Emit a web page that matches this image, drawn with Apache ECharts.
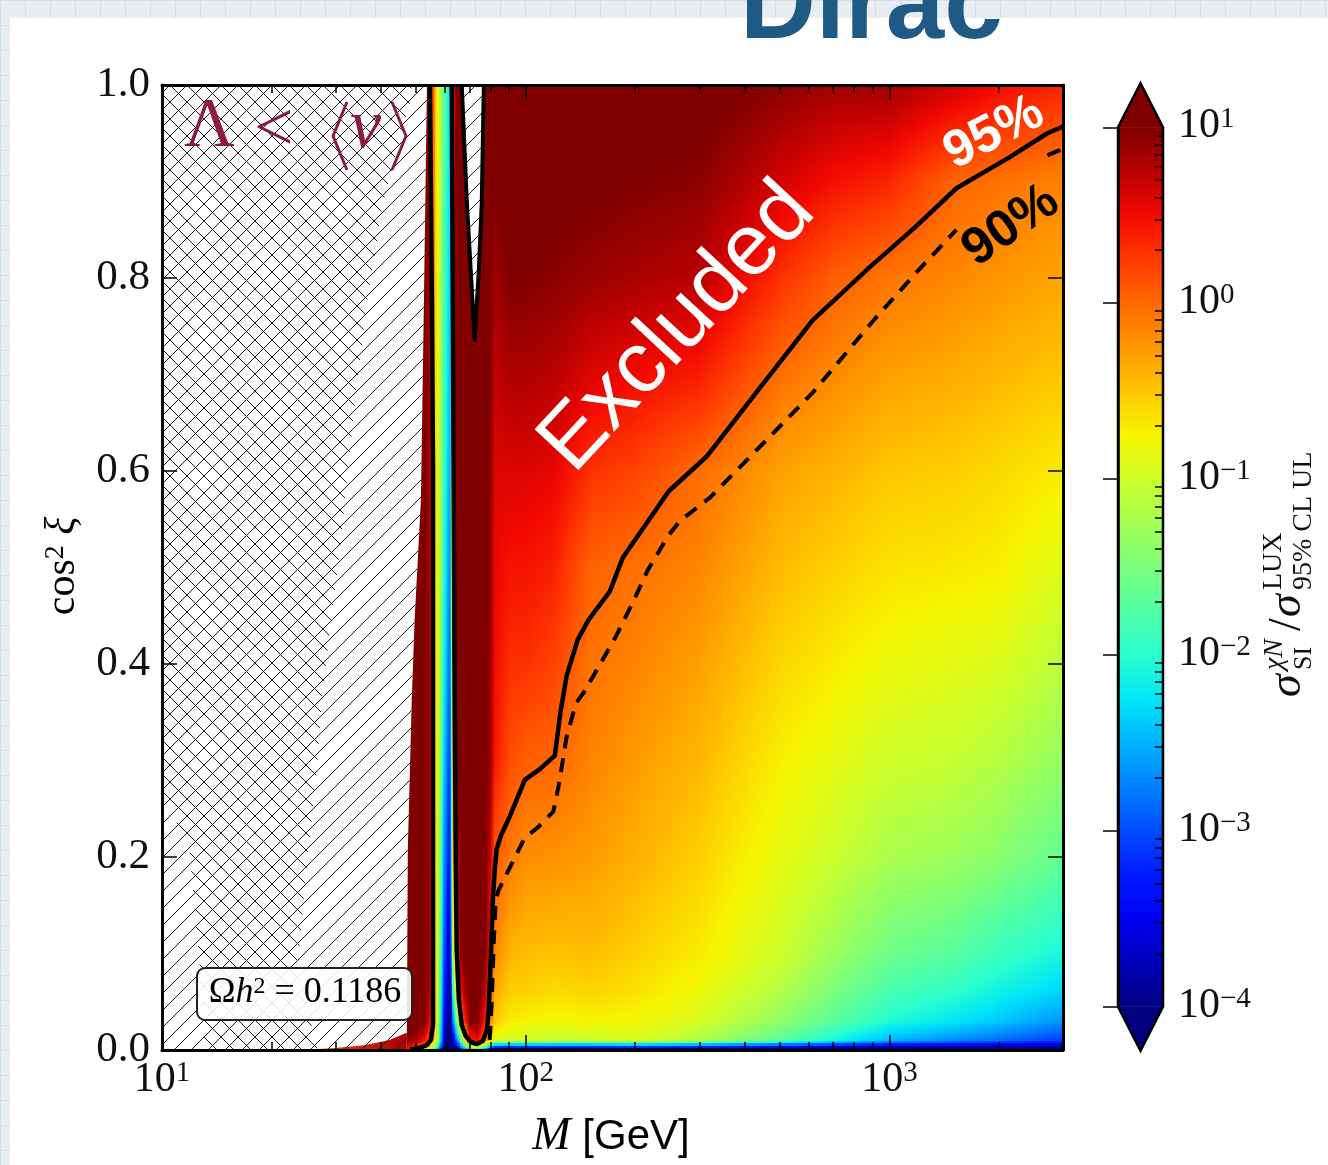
<!DOCTYPE html>
<html>
<head>
<meta charset="utf-8">
<title>Dirac</title>
<script src="https://cdn.jsdelivr.net/npm/echarts@6/dist/echarts.min.js"></script>
<style>
html, body { margin: 0; padding: 0; }
body {
  width: 1328px; height: 1165px; overflow: hidden;
  background-color: #e7edf1;
  background-image: linear-gradient(#d3dde5 1px, transparent 1px), linear-gradient(90deg, #d3dde5 1px, transparent 1px);
  background-size: 25px 25px;
}
#chart { position: absolute; left: 0; top: 0; width: 1328px; height: 1165px; }
</style>
</head>
<body>
<div id="chart"></div>
<script>
// ---------------------------------------------------------------------------
// Scan grid: log10( sigma_SI / sigma_95%CL UL ) on nodes of (M, cos^2 xi)
// ---------------------------------------------------------------------------
const M_NODES = [47, 50, 53, 55, 56.5, 58, 59.5, 61, 62.2, 63, 64, 66, 70, 74, 78, 82, 90, 100, 120, 150, 200, 300, 500, 700, 1000, 1500, 2000, 3000];
const COS2_NODES = [0, 0.01, 0.03, 0.06, 0.1, 0.2, 0.3, 0.4, 0.5, 0.6, 0.7, 0.8, 0.9, 1.0];

const logRatio_c000 = [0.3, 0.0, -0.6, -1.5, -2.0, -3.0, -4.0, -4.5, -4.5, -4.5, -4.5, -3.5, -2.0, -2.0, -3.0, -4.5, -4.5, -4.5, -4.5, -4.5, -4.5, -4.5, -4.5, -4.5, -4.5, -4.5, -4.5, -4.5];
const logRatio_c001 = [0.9, 0.8, 0.4, -0.1, -0.7, -1.8, -3.4, -4.2, -4.5, -3.8, -3.2, -1.8, 0.3, 0.5, -0.3, -0.9, -1.0, -1.0, -1.05, -1.05, -0.95, -1.2, -1.7, -2.1, -2.5, -2.7, -2.85, -3.1];
const logRatio_c003 = [1.2, 1.2, 1.0, 0.3, -0.5, -1.6, -3.2, -3.9, -4.2, -3.0, -2.0, -0.3, 1.0, 1.0, 0.2, -0.5, -0.7, -0.75, -0.8, -0.75, -0.78, -0.95, -1.38, -1.72, -2.05, -2.25, -2.4, -2.65];
const logRatio_c006 = [1.3, 1.3, 1.2, 0.5, -0.5, -1.5, -3.0, -3.7, -4.0, -2.2, -1.0, 0.4, 1.2, 1.2, 0.6, -0.35, -0.55, -0.55, -0.62, -0.58, -0.65, -0.82, -1.15, -1.5, -1.82, -1.98, -2.15, -2.35];
const logRatio_c010 = [1.3, 1.3, 1.3, 0.5, -0.55, -1.4, -2.8, -3.5, -3.8, -1.5, -0.3, 0.9, 1.3, 1.3, 0.9, -0.15, -0.4, -0.45, -0.48, -0.45, -0.55, -0.7, -1.0, -1.3, -1.58, -1.72, -1.9, -2.1];
const logRatio_c020 = [1.3, 1.3, 1.3, 0.5, -0.55, -1.3, -2.5, -3.1, -3.4, -0.7, 0.3, 1.3, 1.3, 1.3, 1.2, 0.1, -0.1, -0.2, -0.22, -0.27, -0.38, -0.55, -0.85, -1.02, -1.22, -1.3, -1.42, -1.65];
const logRatio_c030 = [1.3, 1.3, 1.3, 0.5, -0.55, -1.2, -2.2, -2.85, -3.1, -0.5, 0.8, 1.3, 1.3, 1.3, 1.3, 0.45, 0.15, 0.05, 0.0, -0.14, -0.27, -0.42, -0.72, -0.86, -1.0, -1.05, -1.15, -1.35];
const logRatio_c040 = [1.3, 1.3, 1.3, 0.5, -0.55, -1.15, -2.0, -2.6, -2.9, -0.3, 0.9, 1.3, 1.3, 1.3, 1.3, 0.5, 0.3, 0.3, 0.2, -0.06, -0.15, -0.3, -0.58, -0.7, -0.82, -0.88, -0.92, -1.12];
const logRatio_c050 = [1.3, 1.3, 1.3, 0.5, -0.55, -1.1, -1.9, -2.45, -2.75, -0.2, 1.0, 1.3, 1.3, 1.3, 1.3, 0.55, 0.45, 0.45, 0.38, 0.03, -0.05, -0.16, -0.44, -0.55, -0.65, -0.68, -0.72, -0.9];
const logRatio_c060 = [1.3, 1.3, 1.3, 0.5, -0.55, -1.1, -1.8, -2.3, -2.6, -0.1, 1.0, 1.3, 1.3, 1.3, 1.3, 0.6, 0.6, 0.6, 0.55, 0.3, 0.2, -0.03, -0.3, -0.4, -0.5, -0.54, -0.6, -0.7];
const logRatio_c070 = [1.3, 1.3, 1.3, 0.5, -0.55, -1.05, -1.75, -2.2, -2.5, -0.1, 1.0, 1.3, 1.3, 1.3, 1.3, 0.7, 0.8, 0.8, 0.75, 0.6, 0.5, 0.4, -0.04, -0.18, -0.3, -0.36, -0.42, -0.5];
const logRatio_c080 = [1.3, 1.3, 1.3, 0.5, -0.5, -1.05, -1.7, -2.1, -2.4, -0.1, 1.0, 1.3, 1.3, 1.3, 1.3, 0.85, 1.0, 1.0, 0.95, 0.88, 0.82, 0.75, 0.3, 0.05, -0.08, -0.17, -0.24, -0.33];
const logRatio_c090 = [1.3, 1.3, 1.3, 0.5, -0.5, -1.0, -1.65, -2.05, -2.35, -0.1, 1.0, 1.3, 1.3, 1.3, 1.3, 1.0, 1.15, 1.15, 1.1, 1.05, 1.0, 0.95, 0.65, 0.47, 0.35, 0.02, -0.05, -0.15];
const logRatio_c100 = [1.3, 1.3, 1.3, 0.6, -0.5, -1.0, -1.6, -2.0, -2.3, -0.1, 1.0, 1.3, 1.3, 1.3, 1.3, 1.2, 1.3, 1.3, 1.25, 1.2, 1.15, 1.1, 0.95, 0.85, 0.85, 0.65, 0.5, 0.35];

const LOG_RATIO_ROWS = [logRatio_c000, logRatio_c001, logRatio_c003, logRatio_c006, logRatio_c010, logRatio_c020,
  logRatio_c030, logRatio_c040, logRatio_c050, logRatio_c060, logRatio_c070, logRatio_c080, logRatio_c090, logRatio_c100];

// 95% CL exclusion contour: right edge of the Higgs-resonance stripe, the dip and the high-mass branch
const CL95_M = [62.6, 63.0, 63.4, 63.8, 64.2, 64.6, 65.5, 66.7, 68.4, 70.6, 73.4, 76.2, 78.2, 79.1, 80.1, 81.2, 82.2, 83.2, 85.4, 90.4,
  99.4, 109.3, 120.2, 124.8, 129.6, 138.9, 149.0, 170.2, 184.8, 199.3, 247.2, 314.3, 450.6, 614.6, 881.4, 1179, 1528, 2136, 2718, 3000];
const CL95_C = [1.000, 0.777, 0.570, 0.363, 0.207, 0.104, 0.052, 0.026, 0.0145, 0.0083, 0.0062, 0.0093, 0.0207, 0.0415, 0.0933, 0.155, 0.187, 0.208, 0.222, 0.242,
  0.280, 0.291, 0.305, 0.352, 0.388, 0.425, 0.446, 0.475, 0.510, 0.528, 0.579, 0.615, 0.691, 0.756, 0.811, 0.853, 0.893, 0.925, 0.950, 0.957];

// 95% CL contour on the low-mass side of the stripe
const STRIPE_EDGE_M = [54.5, 55.2, 55.6, 55.6, 55.6, 54.85, 53.5, 51.1, 48.0];
const STRIPE_EDGE_C = [1.0, 0.777, 0.601, 0.155, 0.026, 0.0104, 0.0052, 0.0021, 0.0005];

// 90% CL contour (null = break under its label)
const CL90_M = [79.6, 80.7, 81.7, 82.7, 84.3, 99.4, 108.2, 119.1, 123.2, 129.5, 137.3, 144.1, 154.7, 176.7, 198.9, 216.3, 246.6, 264.9, 322.2, 450.6, 614.6, 903.6, 1201, 1528, null, 2718, 3000];
const CL90_C = [0.0104, 0.052, 0.114, 0.155, 0.166, 0.220, 0.231, 0.247, 0.274, 0.324, 0.359, 0.370, 0.390, 0.428, 0.467, 0.497, 0.533, 0.548, 0.573, 0.629, 0.681, 0.756, 0.808, 0.850, null, 0.927, 0.934];

// Region with Lambda < <v> (no viable points), and the narrow gap near the top
const VEV_REGION_M = [10, 53.5, 52.5, 51.5, 49.5, 48.6, 47.4, 47.1, 10];
const VEV_REGION_C = [1, 1, 0.777, 0.570, 0.446, 0.363, 0.207, 0, 0];
const SPIKE_M = [66.7, 68.9, 70.6, 72.4, 74.3, 75.7, 76.7];
const SPIKE_C = [1.0, 0.878, 0.808, 0.736, 0.808, 0.878, 1.0];
// Second constraint, overlapping the first (cross-hatched)
const CROSS_REGION_M = [10, 48.6, 48.0, 40.5, 36.6, 34.3, 30.8, 27.5, 26.7, 25.0, 23.6, 26.8, 13.1, 12.7, 11.9, 10];
const CROSS_REGION_C = [1, 1, 0.981, 0.878, 0.774, 0.687, 0.518, 0.363, 0.293, 0.190, 0.086, 0, 0, 0.086, 0.207, 0.269];
// Thin band of valid points along cos^2 xi -> 0 below the hatched region
const LOW_EDGE_M = [24, 30, 36, 42, 47.1, 47.1];
const LOW_EDGE_C = [0, 0.002, 0.005, 0.010, 0.018, 0];

// Tick values
const M_MAJOR = [10, 100, 1000];
const M_MINOR = [20, 30, 40, 50, 60, 70, 80, 90, 200, 300, 400, 500, 600, 700, 800, 900, 2000, 3000];
const CBAR_MAJOR = [0.0001, 0.001, 0.01, 0.1, 1, 10];
const CBAR_MINOR = [0.0002, 0.0003, 0.0004, 0.0005, 0.0006, 0.0007, 0.0008, 0.0009,
  0.002, 0.003, 0.004, 0.005, 0.006, 0.007, 0.008, 0.009,
  0.02, 0.03, 0.04, 0.05, 0.06, 0.07, 0.08, 0.09,
  0.2, 0.3, 0.4, 0.5, 0.6, 0.7, 0.8, 0.9,
  2, 3, 4, 5, 6, 7, 8, 9];
const CBAR_RANGE = [-4, 1]; // log10 limits of the colour scale

// ---------------------------------------------------------------------------
// Styling
// ---------------------------------------------------------------------------
const SERIF = '"Liberation Serif", "DejaVu Serif", serif';
const SANS = '"Liberation Sans", "DejaVu Sans", sans-serif';
const INK = '#111111';
const MAROON = '#8c1b3d';

// jet colormap sampled every 5%
const JET = ['#000080', '#0000b9', '#0000f3', '#001aff', '#004dff', '#0080ff', '#00b3ff', '#00e6f7', '#29ffce', '#52ffa4',
  '#7bff7b', '#a4ff52', '#ceff29', '#f7f500', '#ffc600', '#ff9700', '#ff6800', '#ff3900', '#f30900', '#b90000', '#800000'];
const JET_RGB = JET.map(h => [parseInt(h.slice(1, 3), 16), parseInt(h.slice(3, 5), 16), parseInt(h.slice(5, 7), 16)]);
function jetColor(L) {
  let f = (L - CBAR_RANGE[0]) / (CBAR_RANGE[1] - CBAR_RANGE[0]);
  f = Math.max(0, Math.min(1, f));
  const p = f * (JET_RGB.length - 1);
  const k = Math.min(Math.floor(p), JET_RGB.length - 2);
  const t = p - k, a = JET_RGB[k], b = JET_RGB[k + 1];
  return 'rgb(' + Math.round(a[0] + (b[0] - a[0]) * t) + ',' + Math.round(a[1] + (b[1] - a[1]) * t) + ',' + Math.round(a[2] + (b[2] - a[2]) * t) + ')';
}

function hatchTile(backslash) {
  const s = 17;
  const cv = document.createElement('canvas');
  cv.width = s; cv.height = s;
  const g = cv.getContext('2d');
  g.strokeStyle = '#1a1a1a';
  g.lineWidth = 1;
  g.beginPath();
  const segs = backslash
    ? [[-1, -1, s + 1, s + 1], [s - 1, -1, s + 1, 1], [-1, s - 1, 1, s + 1]]
    : [[-1, s + 1, s + 1, -1], [-1, 1, 1, -1], [s - 1, s + 1, s + 1, s - 1]];
  segs.forEach(q => { g.moveTo(q[0], q[1]); g.lineTo(q[2], q[3]); });
  g.stroke();
  return { image: cv, repeat: 'repeat' };
}
const HATCH_FWD = hatchTile(false);
const HATCH_BACK = hatchTile(true);

function powLabel(v) {
  const e = Math.round(Math.log10(v));
  return '{b|10}{s|' + (e < 0 ? '\u2212' + (-e) : String(e)) + '}';
}
const POW_RICH = {
  b: { fontFamily: SERIF, fontSize: 42, color: INK, lineHeight: 44, verticalAlign: 'top' },
  s: { fontFamily: SERIF, fontSize: 29, color: INK, lineHeight: 20, verticalAlign: 'top' }
};

// ---------------------------------------------------------------------------
// Series builders
// ---------------------------------------------------------------------------
const fieldCells = [];
for (let j = 0; j < COS2_NODES.length - 1; j++) {
  for (let i = 0; i < M_NODES.length - 1; i++) fieldCells.push([M_NODES[i], COS2_NODES[j], i, j]);
}

// each cell is shaded in thin horizontal strips, blending the four corner values
function renderFieldCell(params, api) {
  const i = api.value(2), j = api.value(3);
  const lo = api.coord([M_NODES[i], COS2_NODES[j]]);
  const hi = api.coord([M_NODES[i + 1], COS2_NODES[j + 1]]);
  const rowLo = LOG_RATIO_ROWS[j], rowHi = LOG_RATIO_ROWS[j + 1];
  const v00 = rowLo[i], v10 = rowLo[i + 1], v01 = rowHi[i], v11 = rowHi[i + 1];
  const xL = Math.floor(lo[0]), xR = Math.ceil(hi[0]);
  const yB = lo[1], yT = hi[1], H = yB - yT;
  const n = Math.max(1, Math.ceil(H / 3));
  const K = Math.max(2, Math.ceil((hi[0] - lo[0]) / 6));
  const children = [];
  for (let s = 0; s < n; s++) {
    const top = yB - H * (s + 1) / n, bot = yB - H * s / n;
    const t = (s + 0.5) / n;
    const vl = v00 + (v01 - v00) * t, vr = v10 + (v11 - v10) * t;
    const stops = [];
    for (let k = 0; k <= K; k++) stops.push({ offset: k / K, color: jetColor(vl + (vr - vl) * k / K) });
    children.push({
      type: 'rect',
      shape: { x: xL, y: Math.floor(top), width: Math.max(1, xR - xL), height: Math.max(1, Math.ceil(bot) - Math.floor(top)) },
      style: { fill: new echarts.graphic.LinearGradient(0, 0, 1, 0, stops) }
    });
  }
  return { type: 'group', children };
}

function regionSeries(name, Ms, Cs, style, z) {
  return {
    type: 'custom', name, xAxisIndex: 0, yAxisIndex: 0, z, silent: true, clip: true,
    data: Ms.map((m, k) => [m, Cs[k]]),
    renderItem(params, api) {
      if (params.dataIndex !== 0) return;
      return { type: 'polygon', shape: { points: Ms.map((m, k) => api.coord([m, Cs[k]])) }, style };
    }
  };
}

function lineSeries(name, Ms, Cs, lineStyle) {
  return {
    type: 'line', name, xAxisIndex: 0, yAxisIndex: 0, z: 6, silent: true, clip: true,
    symbol: 'none', showSymbol: false, connectNulls: false,
    data: Ms.map((m, k) => (m === null ? '-' : [m, Cs[k]])),
    lineStyle
  };
}

function renderColorbar(params, api) {
  const a = api.coord([0, CBAR_MAJOR[CBAR_MAJOR.length - 1]]);
  const b = api.coord([1, CBAR_MAJOR[0]]);
  const x0 = a[0], x1 = b[0], yTop = a[1], yBot = b[1], xm = (x0 + x1) / 2, tip = 44;
  const stops = [];
  for (let k = 0; k <= 60; k++) {
    stops.push({ offset: k / 60, color: jetColor(CBAR_RANGE[1] - (CBAR_RANGE[1] - CBAR_RANGE[0]) * k / 60) });
  }
  return {
    type: 'group', children: [
      { type: 'rect', shape: { x: x0, y: yTop, width: x1 - x0, height: yBot - yTop }, style: { fill: new echarts.graphic.LinearGradient(0, 0, 0, 1, stops) } },
      { type: 'polygon', shape: { points: [[x0, yTop + 0.5], [xm, yTop - tip], [x1, yTop + 0.5]] }, style: { fill: jetColor(CBAR_RANGE[1] + 1) } },
      { type: 'polygon', shape: { points: [[x0, yBot - 0.5], [xm, yBot + tip], [x1, yBot - 0.5]] }, style: { fill: jetColor(CBAR_RANGE[0] - 1) } },
      { type: 'polygon', shape: { points: [[x0, yBot], [x0, yTop], [xm, yTop - tip], [x1, yTop], [x1, yBot], [xm, yBot + tip]] }, style: { fill: null, stroke: '#000', lineWidth: 2.5 } }
    ]
  };
}

// ---------------------------------------------------------------------------
// Axes
// ---------------------------------------------------------------------------
const frameLine = { show: true, lineStyle: { color: '#000', width: 3 } };
function massAxis(position, major, withLabels) {
  return {
    type: 'log', logBase: 10, min: 10, max: 3000, gridIndex: 0, position, z: 20,
    axisLine: major ? frameLine : { show: false },
    axisTick: { show: true, inside: true, length: major ? 15 : 8, customValues: major ? M_MAJOR : M_MINOR, lineStyle: { color: '#000', width: 1.5 } },
    axisLabel: withLabels
      ? { show: true, customValues: M_MAJOR, formatter: powLabel, rich: POW_RICH, margin: 9 }
      : { show: false },
    splitLine: { show: false }, minorTick: { show: false }
  };
}
function cosAxis(position, withLabels) {
  return {
    type: 'value', min: 0, max: 1, interval: 0.2, gridIndex: 0, position, z: 20,
    axisLine: frameLine,
    axisTick: { show: true, inside: true, length: 15, lineStyle: { color: '#000', width: 1.5 } },
    axisLabel: withLabels
      ? { show: true, formatter: v => v.toFixed(1), fontFamily: SERIF, fontSize: 43, color: INK, margin: 12 }
      : { show: false },
    splitLine: { show: false }
  };
}

const option = {
  animation: false,
  grid: [
    { left: 162, top: 85, width: 901, height: 965, containLabel: false },
    { left: 1118, top: 127.3, width: 45, height: 879.4, containLabel: false }
  ],
  xAxis: [
    massAxis('bottom', true, true),
    massAxis('bottom', false, false),
    massAxis('top', true, false),
    massAxis('top', false, false),
    { type: 'value', min: 0, max: 1, gridIndex: 1, show: false }
  ],
  yAxis: [
    cosAxis('left', true),
    cosAxis('right', false),
    {
      type: 'log', logBase: 10, min: 0.0001, max: 10, gridIndex: 1, position: 'right', z: 20,
      axisLine: { show: true, lineStyle: { color: '#000', width: 2.5 } },
      axisTick: { show: true, inside: true, length: 15, customValues: CBAR_MAJOR, lineStyle: { color: '#000', width: 1.5 } },
      axisLabel: { show: true, customValues: CBAR_MAJOR, formatter: powLabel, rich: POW_RICH, margin: 15 },
      splitLine: { show: false }, minorTick: { show: false }
    },
    {
      type: 'log', logBase: 10, min: 0.0001, max: 10, gridIndex: 1, position: 'right', z: 20,
      axisLine: { show: false },
      axisTick: { show: true, inside: true, length: 8, customValues: CBAR_MINOR, lineStyle: { color: '#000', width: 1.5 } },
      axisLabel: { show: false },
      splitLine: { show: false }, minorTick: { show: false }
    }
  ],
  series: [
    {
      type: 'custom', name: 'ratio', xAxisIndex: 0, yAxisIndex: 0, z: 1, silent: true, clip: true,
      data: fieldCells, encode: { x: 0, y: 1 }, renderItem: renderFieldCell
    },
    regionSeries('vev-blank', VEV_REGION_M, VEV_REGION_C, { fill: '#ffffff' }, 2),
    regionSeries('gap-blank', SPIKE_M, SPIKE_C, { fill: '#ffffff' }, 2),
    regionSeries('low-edge', LOW_EDGE_M, LOW_EDGE_C, {
      fill: new echarts.graphic.LinearGradient(0, 0, 1, 0, [{ offset: 0, color: '#ff4a1a' }, { offset: 1, color: '#a80000' }])
    }, 3),
    regionSeries('vev-hatch', VEV_REGION_M, VEV_REGION_C, { fill: HATCH_FWD }, 4),
    regionSeries('gap-hatch', SPIKE_M, SPIKE_C, { fill: HATCH_FWD }, 4),
    regionSeries('cross-hatch', CROSS_REGION_M, CROSS_REGION_C, { fill: HATCH_BACK }, 4),
    regionSeries('gap-outline', SPIKE_M, SPIKE_C, { fill: null, stroke: '#000', lineWidth: 4, lineJoin: 'round' }, 6),
    lineSeries('95% low side', STRIPE_EDGE_M, STRIPE_EDGE_C, { color: '#000', width: 4.5, join: 'round' }),
    lineSeries('95%', CL95_M, CL95_C, { color: '#000', width: 4.5, join: 'round' }),
    lineSeries('90%', CL90_M, CL90_C, { color: '#000', width: 4, type: [14, 10], cap: 'butt' }),
    {
      type: 'custom', name: 'colorbar', xAxisIndex: 4, yAxisIndex: 2, z: 5, silent: true, clip: false,
      data: [[0, CBAR_MAJOR[0]]], renderItem: renderColorbar
    }
  ],
  graphic: [
    { type: 'rect', z: -100, silent: true, shape: { x: 10, y: 18, width: 1318, height: 1147 }, style: { fill: '#ffffff' } },
    { type: 'text', z: 100, silent: true, x: 740, y: 9,
      style: { text: 'Dirac', fontFamily: SANS, fontWeight: 'bold', fontSize: 105, fill: '#1e5a84', align: 'left', verticalAlign: 'middle', textAlign: 'left', textVerticalAlign: 'middle' } },
    { type: 'text', z: 100, silent: true, x: 678, y: 328, rotation: 47 * Math.PI / 180,
      style: { text: 'Excluded', fontFamily: SANS, fontSize: 87, fill: '#ffffff', align: 'center', verticalAlign: 'middle', textAlign: 'center', textVerticalAlign: 'middle' } },
    { type: 'text', z: 100, silent: true, x: 994, y: 133, rotation: 27 * Math.PI / 180,
      style: { text: '95%', fontFamily: SANS, fontWeight: 'bold', fontSize: 52, fill: '#ffffff', align: 'center', verticalAlign: 'middle', textAlign: 'center', textVerticalAlign: 'middle' } },
    { type: 'text', z: 100, silent: true, x: 1011, y: 226, rotation: 35 * Math.PI / 180,
      style: { text: '90%', fontFamily: SANS, fontWeight: 'bold', fontSize: 52, fill: '#000000', align: 'center', verticalAlign: 'middle', textAlign: 'center', textVerticalAlign: 'middle' } },
    // Lambda < <v>
    { type: 'text', z: 100, silent: true, x: 184, y: 128,
      style: { text: '\u039B', fontFamily: SERIF, fontSize: 70, fill: MAROON, align: 'left', verticalAlign: 'middle', textAlign: 'left', textVerticalAlign: 'middle' } },
    { type: 'text', z: 100, silent: true, x: 254, y: 132,
      style: { text: '<', fontFamily: SERIF, fontSize: 70, fill: MAROON, align: 'left', verticalAlign: 'middle', textAlign: 'left', textVerticalAlign: 'middle' } },
    { type: 'text', z: 100, silent: true, x: 350, y: 129,
      style: { text: 'v', fontFamily: SERIF, fontStyle: 'italic', fontSize: 70, fill: MAROON, align: 'left', verticalAlign: 'middle', textAlign: 'left', textVerticalAlign: 'middle' } },
    { type: 'polyline', z: 100, silent: true, shape: { points: [[347, 102], [333, 136], [347, 170]] }, style: { stroke: MAROON, lineWidth: 3, fill: null } },
    { type: 'polyline', z: 100, silent: true, shape: { points: [[392, 102], [406, 136], [392, 170]] }, style: { stroke: MAROON, lineWidth: 3, fill: null } },
    // relic density box
    { type: 'rect', z: 100, silent: true, shape: { x: 197, y: 968, width: 215, height: 52, r: 8 }, style: { fill: 'rgba(255,255,255,0.88)', stroke: '#222', lineWidth: 2 } },
    { type: 'text', z: 101, silent: true, x: 305, y: 994,
      style: {
        text: '{a|\u03A9}{i|h}{s|2}{a| = 0.1186}', align: 'center', verticalAlign: 'middle', textAlign: 'center', textVerticalAlign: 'middle',
        rich: {
          a: { fontFamily: SERIF, fontSize: 36, color: INK, lineHeight: 38, verticalAlign: 'top' },
          i: { fontFamily: SERIF, fontStyle: 'italic', fontSize: 36, color: INK, lineHeight: 38, verticalAlign: 'top' },
          s: { fontFamily: SERIF, fontSize: 24, color: INK, lineHeight: 18, verticalAlign: 'top' }
        }
      } },
    // axis titles
    { type: 'text', z: 100, silent: true, x: 611, y: 1137,
      style: {
        text: '{i|M}{g| [GeV]}', align: 'center', verticalAlign: 'middle', textAlign: 'center', textVerticalAlign: 'middle',
        rich: {
          i: { fontFamily: SERIF, fontStyle: 'italic', fontSize: 46, color: INK },
          g: { fontFamily: SANS, fontSize: 42, color: INK }
        }
      } },
    { type: 'text', z: 100, silent: true, x: 64, y: 566, rotation: Math.PI / 2,
      style: {
        text: '{a|cos}{s|2}{a| }{i|\u03BE}', align: 'center', verticalAlign: 'middle', textAlign: 'center', textVerticalAlign: 'middle',
        rich: {
          a: { fontFamily: SERIF, fontSize: 42, color: INK, lineHeight: 44, verticalAlign: 'top' },
          i: { fontFamily: SERIF, fontStyle: 'italic', fontSize: 42, color: INK, lineHeight: 44, verticalAlign: 'top' },
          s: { fontFamily: SERIF, fontSize: 28, color: INK, lineHeight: 20, verticalAlign: 'top' }
        }
      } },
    {
      type: 'group', z: 100, silent: true, x: 1304, y: 697, rotation: Math.PI / 2,
      children: [
        { type: 'text', x: 0, y: -15.6, style: { text: '\u03C3', fontFamily: SERIF, fontStyle: 'italic', fontSize: 46, fill: INK, align: 'left', verticalAlign: 'middle', textAlign: 'left', textVerticalAlign: 'middle' } },
        { type: 'text', x: 27, y: -29.5, style: { text: '\u03C7N', fontFamily: SERIF, fontStyle: 'italic', fontSize: 28, fill: INK, align: 'left', verticalAlign: 'middle', textAlign: 'left', textVerticalAlign: 'middle' } },
        { type: 'text', x: 27, y: 0.2, style: { text: 'SI', fontFamily: SERIF, fontSize: 26, fill: INK, align: 'left', verticalAlign: 'middle', textAlign: 'left', textVerticalAlign: 'middle' } },
        { type: 'text', x: 66, y: -15.6, style: { text: '/', fontFamily: SERIF, fontSize: 46, fill: INK, align: 'left', verticalAlign: 'middle', textAlign: 'left', textVerticalAlign: 'middle' } },
        { type: 'text', x: 80, y: -15.6, style: { text: '\u03C3', fontFamily: SERIF, fontStyle: 'italic', fontSize: 46, fill: INK, align: 'left', verticalAlign: 'middle', textAlign: 'left', textVerticalAlign: 'middle' } },
        { type: 'text', x: 107, y: -30.5, style: { text: 'LUX', fontFamily: SERIF, fontSize: 28, fill: INK, align: 'left', verticalAlign: 'middle', textAlign: 'left', textVerticalAlign: 'middle' } },
        { type: 'text', x: 107, y: -0.5, style: { text: '95% CL UL', fontFamily: SERIF, fontSize: 28, fill: INK, align: 'left', verticalAlign: 'middle', textAlign: 'left', textVerticalAlign: 'middle' } }
      ]
    }
  ]
};

const chart = echarts.init(document.getElementById('chart'), null, { renderer: 'canvas' });
chart.setOption(option);
</script>
</body>
</html>
